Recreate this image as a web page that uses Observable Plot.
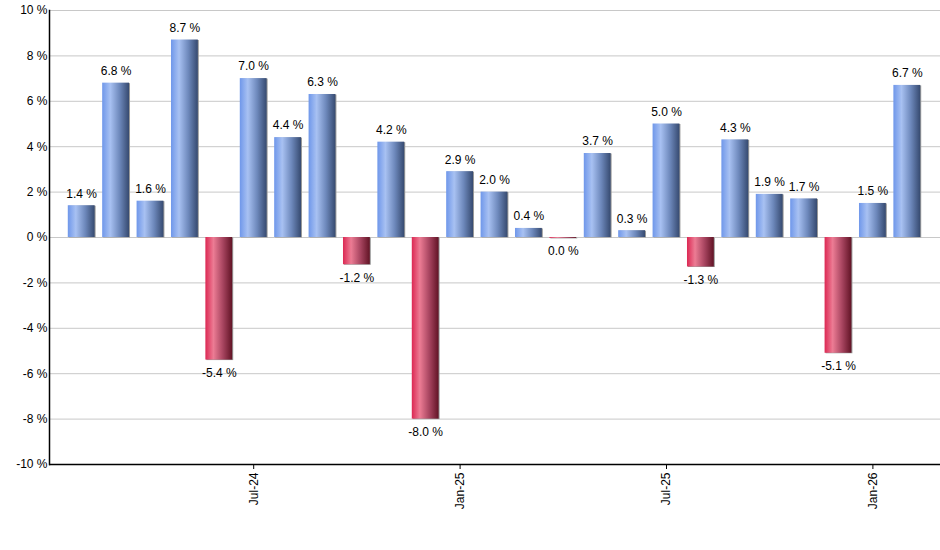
<!DOCTYPE html>
<html>
<head>
<meta charset="utf-8">
<script src="https://cdn.jsdelivr.net/npm/d3@7"></script>
<script src="https://cdn.jsdelivr.net/npm/@observablehq/plot@0.6"></script>
<style>
  body { margin: 0; background: #fff; }
  #chart svg { display: block; }
</style>
</head>
<body>
<div id="chart"></div>
<script>
const months = ["Feb-24","Mar-24","Apr-24","May-24","Jun-24","Jul-24","Aug-24","Sep-24","Oct-24","Nov-24","Dec-24","Jan-25","Feb-25","Mar-25","Apr-25","May-25","Jun-25","Jul-25","Aug-25","Sep-25","Oct-25","Nov-25","Dec-25","Jan-26","Feb-26"];
const values = [1.4, 6.8, 1.6, 8.7, -5.4, 7.0, 4.4, 6.3, -1.2, 4.2, -8.0, 2.9, 2.0, 0.4, -0.04, 3.7, 0.3, 5.0, -1.3, 4.3, 1.9, 1.7, -5.1, 1.5, 6.7];
const tickMonths = ["Jul-24", "Jan-25", "Jul-25", "Jan-26"];
const yTicks = [-10, -8, -6, -4, -2, 0, 2, 4, 6, 8, 10];

const data = months.map((m, i) => ({month: m, value: values[i]}));
const fmt = v => { let s = v.toFixed(1); if (s === "-0.0") s = "0.0"; return s + " %"; };

const defs = () => {
  const d = d3.create("svg:defs");
  const mk = (id, stops) => {
    const g = d.append("linearGradient").attr("id", id).attr("x1", 0).attr("x2", 1).attr("y1", 0).attr("y2", 0);
    stops.forEach(([o, c]) => g.append("stop").attr("offset", o).attr("stop-color", c));
  };
  mk("gBlue", [[0, "#6f97ea"], [0.3, "#a8c1f2"], [0.65, "#6d88bb"], [1, "#364a70"]]);
  mk("gRed", [[0, "#dc2853"], [0.3, "#ec7c94"], [0.65, "#a84560"], [1, "#611325"]]);
  return d.node();
};

const chart = Plot.plot({
  width: 940,
  height: 540,
  marginLeft: 49,
  marginRight: 0,
  marginTop: 10,
  marginBottom: 76,
  style: {fontFamily: "Liberation Sans, Arial, sans-serif", fontSize: "12px", color: "#000", overflow: "visible"},
  x: {type: "band", domain: months, round: false, insetLeft: 15, insetRight: 16, paddingInner: 0.22, paddingOuter: 0.11, label: null},
  y: {domain: [-10, 10], label: null},
  marks: [
    defs,
    Plot.ruleY(yTicks, {stroke: "#c8c8c8", strokeWidth: 1}),
    Plot.barY(data, {x: "month", y: "value", fill: "#9a9a9a", dx: 1, dy: 0.5}),
    Plot.barY(data, {x: "month", y: "value", fill: d => d.value < 0 ? "url(#gRed)" : "url(#gBlue)"}),
    Plot.text(data, {x: "month", y: "value", text: d => fmt(d.value), fill: "#000",
      lineAnchor: "middle", fontSize: 12}),
    Plot.axisY({ticks: yTicks, tickSize: 0, tickPadding: 2, tickFormat: d => d + " %", fontSize: 12, label: null}),
    Plot.axisX({ticks: tickMonths, tickSize: 5, tickPadding: 3, tickRotate: -90, fontSize: 12, label: null}),
    Plot.ruleY([-10], {stroke: "#000", strokeWidth: 1.5}),
    Plot.frame({anchor: "left", stroke: "#000", strokeWidth: 1.5})
  ]
});

// Offset value labels above/below bars
d3.select(chart).selectAll("g[aria-label='text'] text").each(function(_, i) {
  const v = values[i];
  d3.select(this).attr("dy", v < 0 ? "13" : "-12");
});

document.getElementById("chart").appendChild(chart);
</script>
</body>
</html>
